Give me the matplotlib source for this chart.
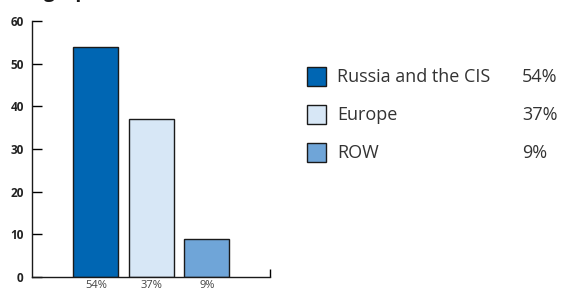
import matplotlib
matplotlib.use('Agg')
import matplotlib.pyplot as plt

# data ------------------------------------------------------------------
regions = ['Russia and the CIS', 'Europe', 'ROW']
shares = [54, 37, 9]
share_labels = ['54%', '37%', '9%']
colors = ['#0066b3', '#d7e7f6', '#6fa5d8']
yticks = [0, 10, 20, 30, 40, 50, 60]
# -----------------------------------------------------------------------

plt.rcParams['font.family'] = ['Open Sans', 'DejaVu Sans']

fig = plt.figure(figsize=(5.63, 2.91), dpi=100)
ax = fig.add_axes([32/563, 14/291, 238/563, 256/291])

pos = list(range(len(shares)))
ax.bar(pos, shares, width=0.81, color=colors, edgecolor='#1a1a1a', linewidth=1.0)

ax.set_xlim(-1.15, 3.14)
ax.set_ylim(0, 60)
for s in ('top', 'right'):
    ax.spines[s].set_visible(False)
for s in ('left', 'bottom'):
    ax.spines[s].set_linewidth(1.0)
    ax.spines[s].set_color('#1a1a1a')

ax.set_yticks(yticks)
ax.set_yticklabels([str(v) for v in yticks], fontsize=8.5, fontweight='bold', color='#222222')
ax.tick_params(axis='y', direction='in', length=7, width=1, pad=6)
ax.set_xticks(pos)
ax.set_xticklabels(share_labels, fontsize=8, color='#444444')
ax.tick_params(axis='x', length=0, pad=2)
# end tick on right of the x axis
ax.set_xticks([3.14], minor=True)
ax.tick_params(axis='x', which='minor', direction='in', length=6, width=1)

# legend -------------------------------------------------------------------
for i, (name, lab, c) in enumerate(zip(regions, share_labels, colors)):
    y = 1 - (77 + i * 38) / 291
    fig.patches.append(plt.Rectangle((307/563, y - 9/291), 19/563, 19/291,
                                     transform=fig.transFigure, facecolor=c,
                                     edgecolor='#1a1a1a', linewidth=1.0))
    fig.text(337/563, y, name, fontsize=13, color='#333333', va='center')
    fig.text(522/563, y, lab, fontsize=13, color='#333333', va='center')

# title, mostly cut off at the top of the picture
fig.text(6/563, 1.011, 'Geographical breakdown', fontsize=14, fontweight='bold',
         color='#1a1a1a', va='baseline')

fig.savefig('out.png', dpi=100)
